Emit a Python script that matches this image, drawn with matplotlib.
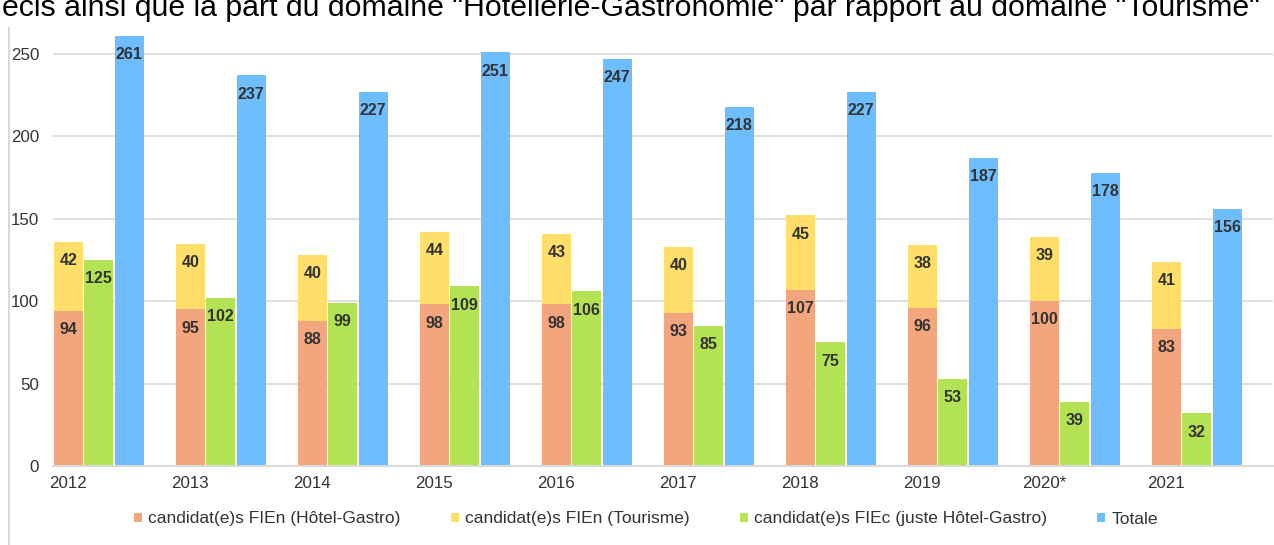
import matplotlib.pyplot as plt
from matplotlib.lines import Line2D
import numpy as np

# donnees
annees = ['2012', '2013', '2014', '2015', '2016', '2017', '2018', '2019', '2020*', '2021']
fien_hotel = [94, 95, 88, 98, 98, 93, 107, 96, 100, 83]
fien_tourisme = [42, 40, 40, 44, 43, 40, 45, 38, 39, 41]
fiec_hotel = [125, 102, 99, 109, 106, 85, 75, 53, 39, 32]
totale = [261, 237, 227, 251, 247, 218, 227, 187, 178, 156]

noms = ['candidat(e)s FIEn (Hôtel-Gastro)', 'candidat(e)s FIEn (Tourisme)',
        'candidat(e)s FIEc (juste Hôtel-Gastro)', 'Totale']
couleurs = ['#F3A57E', '#FFDF6A', '#B3E254', '#6DBDFF']

plt.rcParams['font.family'] = ['Liberation Sans', 'DejaVu Sans']
gris = '#333333'

fig = plt.figure(figsize=(12.74, 5.45), dpi=100)
ax = fig.add_axes([53 / 1274, 79 / 545, 1220 / 1274, 445 / 545])

x = np.arange(len(annees))
w = 0.235
b1 = ax.bar(x, fien_hotel, w, color=couleurs[0], label=noms[0], zorder=2)
b2 = ax.bar(x, fien_tourisme, w, bottom=fien_hotel, color=couleurs[1], label=noms[1], zorder=2)
b3 = ax.bar(x + 0.25, fiec_hotel, w, color=couleurs[2], label=noms[2], zorder=2)
b4 = ax.bar(x + 0.5, totale, w, color=couleurs[3], label=noms[3], zorder=2)

# etiquettes dans le haut des barres
for barres, vals in [(b1, fien_hotel), (b2, fien_tourisme), (b3, fiec_hotel), (b4, totale)]:
    for r, v in zip(barres, vals):
        ax.annotate(str(v), (r.get_x() + r.get_width() / 2, r.get_y() + r.get_height()),
                    xytext=(0, -13.5), textcoords='offset points', ha='center', va='center',
                    fontsize=11.5, fontweight='bold', color=gris, zorder=3)

ax.set_xlim(-0.125, 9.875)
ax.set_ylim(0, 270)
ax.set_yticks(range(0, 251, 50))
ax.set_xticks(x)
ax.set_xticklabels(annees)
ax.tick_params(axis='both', length=0, labelsize=12.2, colors=gris)
ax.tick_params(axis='y', pad=10)
ax.tick_params(axis='x', pad=7)
ax.grid(axis='y', color='#D9D9D9', linewidth=1.2, zorder=0)
for s in ['top', 'right', 'left']:
    ax.spines[s].set_visible(False)
ax.spines['bottom'].set_color('#D9D9D9')
ax.spines['bottom'].set_linewidth(1.5)

leg = fig.legend(loc='center', bbox_to_anchor=(646 / 1274, 1 - 519 / 545), ncol=4,
                 frameon=False, fontsize=12.5, handlelength=0.46, handleheight=0.46,
                 handletextpad=0.35, columnspacing=2.9)
for t in leg.get_texts():
    t.set_color(gris)

# cadre a gauche et texte coupe en haut
fig.add_artist(Line2D([9 / 1274, 9 / 1274], [0, 1 - 28 / 545], color='#D9D9D9', linewidth=1.5))
fig.text(2 / 1274, 1 - 16 / 545,
         'écis ainsi que la part du domaine "Hôtellerie-Gastronomie" par rapport au domaine "Tourisme"',
         fontsize=21.8, color='black', va='baseline', ha='left')

fig.savefig('out.png', dpi=100)
